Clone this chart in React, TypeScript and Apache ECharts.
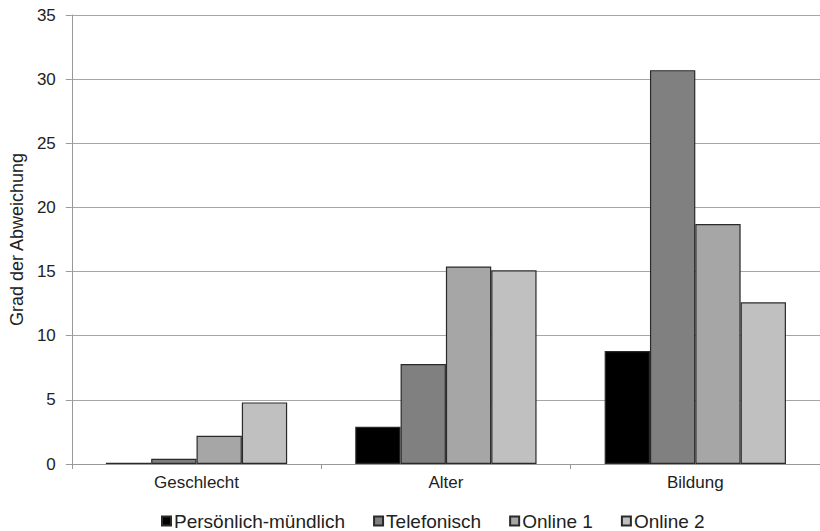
import React, { useEffect, useRef } from "react";
import * as echarts from "echarts";

const categories = ["Geschlecht", "Alter", "Bildung"];
const seriesNames = ["Persönlich-mündlich", "Telefonisch", "Online 1", "Online 2"];
const persoenlich = [0.1, 2.9, 8.8];
const telefonisch = [0.4, 7.8, 30.7];
const online1 = [2.2, 15.4, 18.7];
const online2 = [4.8, 15.1, 12.6];
const seriesColors = ["#000000", "#808080", "#a6a6a6", "#c0c0c0"];
const yTicks = { min: 0, max: 35, interval: 5 };

export default function App() {
  const ref = useRef<HTMLDivElement>(null);
  useEffect(() => {
    if (!ref.current) return;
    const chart = echarts.init(ref.current, undefined, { renderer: "svg" });
    const values = [persoenlich, telefonisch, online1, online2];
    const font = "'Liberation Sans', Arial, sans-serif";
    chart.setOption({
      animation: false,
      backgroundColor: "#ffffff",
      grid: { left: 68.5, right: -4.5, top: 15, bottom: 67, containLabel: false },
      legend: {
        data: seriesNames,
        left: 161,
        top: 511.5,
        padding: 0,
        itemWidth: 9,
        itemHeight: 9,
        itemGap: 28,
        icon: "rect",
        textStyle: { fontFamily: font, fontSize: 19, color: "#222", padding: [0, 0, 0, -2] },
      },
      xAxis: {
        type: "category",
        data: categories,
        axisLine: { lineStyle: { color: "#999999", width: 1 } },
        axisTick: { show: true, length: 5, lineStyle: { color: "#999999" } },
        axisLabel: { fontFamily: font, fontSize: 17, color: "#222", margin: 10 },
      },
      yAxis: {
        type: "value",
        min: yTicks.min,
        max: yTicks.max,
        interval: yTicks.interval,
        name: "Grad der Abweichung",
        nameLocation: "middle",
        nameGap: 44,
        nameTextStyle: { fontFamily: font, fontSize: 18, color: "#222" },
        axisLine: { show: true, lineStyle: { color: "#999999", width: 1 } },
        axisTick: { show: true, length: 6, lineStyle: { color: "#999999" } },
        axisLabel: { fontFamily: font, fontSize: 17, color: "#222", margin: 16 },
        splitLine: { show: true, lineStyle: { color: "#a6a6a6", width: 1.2 } },
      },
      series: seriesNames.map((name, i) => ({
        name,
        type: "bar",
        data: values[i],
        barGap: "0%",
        barCategoryGap: "27.3%",
        itemStyle: { color: seriesColors[i], borderColor: "#2a2a2a", borderWidth: 1.2 },
      })),
    });
    return () => chart.dispose();
  }, []);
  return (
    <div
      ref={ref}
      style={{ position: "fixed", left: 0, top: 0, width: 820, height: 531, background: "#fff" }}
    />
  );
}
